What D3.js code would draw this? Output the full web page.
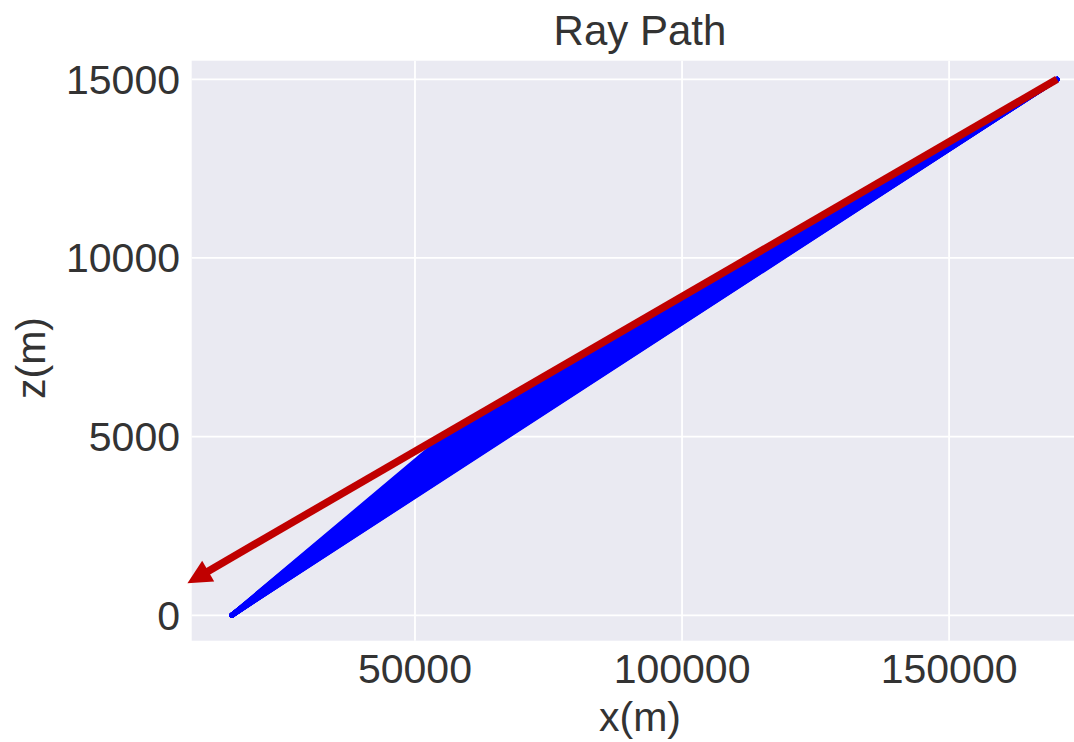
<!DOCTYPE html>
<html>
<head>
<meta charset="utf-8">
<script src="https://cdn.jsdelivr.net/npm/d3@7"></script>
<style>
  body { margin: 0; background: #fff; overflow: hidden; }
  svg { display: block; }
  text { font-family: "Liberation Sans", Arial, sans-serif; fill: #333; }
</style>
</head>
<body>
<div id="chart"></div>
<script>
// Ray end points (x in m, z in m)
const rayStart = [15700, 0];
const rayEnd = [170200, 15000];
// depth of the layer interface where each ray bends
const interfaceZ = 5000;
// x position where each iteration crosses the interface (bent -> straight)
const kinkX = [55500, 56000, 56500, 57000, 57500, 58000, 58500, 59000, 59500, 60000,
               60500, 61000, 61500, 62000, 62500, 63000, 63500, 64000, 64500, 65000,
               65500, 66000, 66500, 67000, 67200];
// red annotation arrow
const arrowFrom = [170200, 15000];
const arrowTo = [7400, 900];

const xTicks = [50000, 100000, 150000];
const yTicks = [0, 5000, 10000, 15000];

(function() {
    const W = 1074, H = 742;
    const plot = {left: 191.7, right: 1088, top: 60.7, bottom: 640.7};

    const svg = d3.select("#chart")
        .append("svg")
        .attr("width", W)
        .attr("height", H);

    const x = d3.scaleLinear().domain([8200, 176000]).range([plot.left, plot.right]);
    const y = d3.scaleLinear().domain([-710, 15520]).range([plot.bottom, plot.top]);

    // axes background
    svg.append("rect")
        .attr("x", plot.left)
        .attr("y", plot.top)
        .attr("width", plot.right - plot.left)
        .attr("height", plot.bottom - plot.top)
        .attr("fill", "#eaeaf2");

    // grid lines
    svg.append("g").selectAll("line")
        .data(xTicks).enter().append("line")
        .attr("x1", d => x(d)).attr("x2", d => x(d))
        .attr("y1", plot.top).attr("y2", plot.bottom)
        .attr("stroke", "#fff").attr("stroke-width", 1.8);

    svg.append("g").selectAll("line")
        .data(yTicks).enter().append("line")
        .attr("y1", d => y(d)).attr("y2", d => y(d))
        .attr("x1", plot.left).attr("x2", plot.right)
        .attr("stroke", "#fff").attr("stroke-width", 1.8);

    // tick labels
    svg.append("g").selectAll("text")
        .data(xTicks).enter().append("text")
        .attr("x", d => x(d))
        .attr("y", 683)
        .attr("text-anchor", "middle")
        .style("font-size", "41px")
        .text(d => d);

    svg.append("g").selectAll("text")
        .data(yTicks).enter().append("text")
        .attr("x", 180)
        .attr("y", d => y(d) + 14.5)
        .attr("text-anchor", "end")
        .style("font-size", "41px")
        .text(d => d);

    // rays
    const line = d3.line().x(d => x(d[0])).y(d => y(d[1]));
    svg.append("g").selectAll("path")
        .data(kinkX).enter().append("path")
        .attr("d", k => line([rayStart, [k, interfaceZ], rayEnd]))
        .attr("fill", "none")
        .attr("stroke", "#0000ff")
        .attr("stroke-width", 5)
        .attr("stroke-linejoin", "round")
        .attr("stroke-linecap", "round");

    // red arrow
    const tx = x(arrowFrom[0]), ty = y(arrowFrom[1]);
    const hx = x(arrowTo[0]), hy = y(arrowTo[1]);
    const len = Math.hypot(hx - tx, hy - ty);
    const ux = (hx - tx) / len, uy = (hy - ty) / len;
    const headLen = 24, headW = 24;
    const bx = hx - ux * headLen, by = hy - uy * headLen;

    svg.append("line")
        .attr("x1", tx).attr("y1", ty)
        .attr("x2", bx + ux * 1).attr("y2", by + uy * 1)
        .attr("stroke", "#c00000")
        .attr("stroke-width", 7.5)
        .attr("stroke-linecap", "butt");

    svg.append("path")
        .attr("d", d3.line()([
            [hx, hy],
            [bx - uy * headW / 2, by + ux * headW / 2],
            [bx + uy * headW / 2, by - ux * headW / 2]
        ]) + "Z")
        .attr("fill", "#c00000");

    // title and axis labels
    svg.append("text")
        .attr("x", 640).attr("y", 45)
        .attr("text-anchor", "middle")
        .style("font-size", "42px")
        .text("Ray Path");

    svg.append("text")
        .attr("x", 640).attr("y", 731)
        .attr("text-anchor", "middle")
        .style("font-size", "41px")
        .text("x(m)");

    svg.append("text")
        .attr("transform", "translate(45, 358) rotate(-90)")
        .attr("text-anchor", "middle")
        .style("font-size", "41px")
        .text("z(m)");
})();
</script>
</body>
</html>
